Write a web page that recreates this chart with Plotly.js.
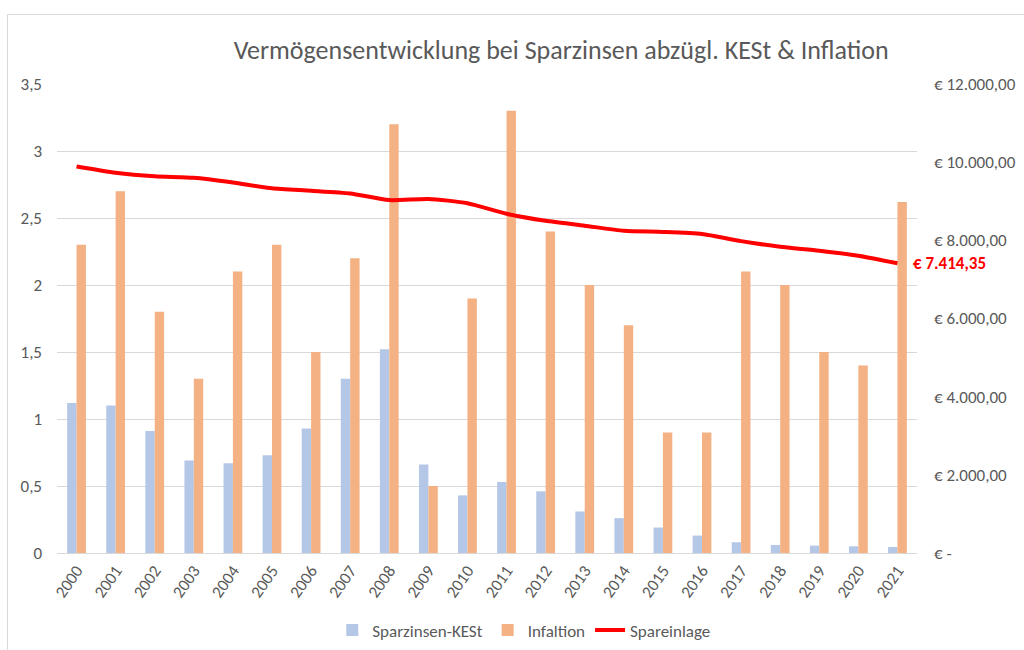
<!DOCTYPE html>
<html>
<head>
<meta charset="utf-8">
<script src="https://cdn.plot.ly/plotly-3.0.1.min.js"></script>
<style>
html,body{margin:0;padding:0;background:#fff;}
#wrap{position:relative;width:1024px;height:650px;overflow:hidden;}
#frame{position:absolute;left:7px;top:14px;width:1030px;height:660px;border:1px solid #d9d9d9;box-sizing:border-box;}
#chart{position:absolute;left:0;top:0;width:1024px;height:650px;}
</style>
</head>
<body>
<div id="wrap"><div id="frame"></div><div id="chart"></div></div>
<script>
const years = ["2000","2001","2002","2003","2004","2005","2006","2007","2008","2009","2010","2011","2012","2013","2014","2015","2016","2017","2018","2019","2020","2021"];
const sparzinsenKESt = [1.12,1.10,0.91,0.69,0.67,0.73,0.93,1.30,1.52,0.66,0.43,0.53,0.46,0.31,0.26,0.19,0.13,0.08,0.06,0.055,0.05,0.045];
const inflation = [2.3,2.7,1.8,1.3,2.1,2.3,1.5,2.2,3.2,0.5,1.9,3.3,2.4,2.0,1.7,0.9,0.9,2.1,2.0,1.5,1.4,2.62];
const spareinlage = [9890,9730,9640,9600,9480,9330,9270,9200,9030,9060,8950,8680,8500,8375,8245,8215,8160,7980,7835,7735,7605,7414.35];
const leftTickVals = [0,0.5,1,1.5,2,2.5,3,3.5];
const leftTickText = ["0","0,5","1","1,5","2","2,5","3","3,5"];
const rightTickVals = [0,2000,4000,6000,8000,10000,12000];
const rightTickText = ["€ -","€ 2.000,00","€ 4.000,00","€ 6.000,00","€ 8.000,00","€ 10.000,00","€ 12.000,00"];
const lastLabel = "€ 7.414,35";

const FONT = "Calibri, Carlito, Lato, 'Open Sans', sans-serif";
const GREY = "#595959";

const traces = [
  {type:"bar", name:"Sparzinsen-KESt", x:years, y:sparzinsenKESt, marker:{color:"#B4C7E7"}},
  {type:"bar", name:"Infaltion", x:years, y:inflation, marker:{color:"#F4B183"}},
  {type:"scatter", mode:"lines", name:"Spareinlage", x:years, y:spareinlage, yaxis:"y2",
   line:{color:"#FF0000", width:4, shape:"spline", smoothing:0.6}}
];

const layout = {
  width:1024, height:650,
  margin:{l:57, r:107, t:84, b:97},
  paper_bgcolor:"rgba(0,0,0,0)", plot_bgcolor:"rgba(0,0,0,0)",
  font:{family:FONT, color:GREY, size:17},
  title:{text:"Vermögensentwicklung bei Sparzinsen abzügl. KESt &amp; Inflation",
    font:{family:FONT, size:26, color:GREY}, xref:"container", x:0.548, xanchor:"center",
    yref:"container", y:0.923, yanchor:"middle"},
  barmode:"group", bargap:0.52, bargroupgap:0,
  showlegend:true,
  legend:{orientation:"h", xref:"container", x:0.512, xanchor:"center", yref:"container", y:0.03, yanchor:"middle",
    font:{family:FONT, size:17, color:GREY}, traceorder:"normal"},
  xaxis:{type:"category", range:[-0.5, years.length-0.5], autorange:false, tickangle:-55, showgrid:false, showline:true, linecolor:"#d9d9d9", linewidth:1,
    ticks:"", tickfont:{family:FONT, size:17, color:GREY}, fixedrange:true},
  yaxis:{range:[0,3.5], tickvals:leftTickVals, ticktext:leftTickText, showgrid:true, gridcolor:"#d9d9d9", gridwidth:1,
    zeroline:false, showline:false, ticks:"", ticklabelstandoff:14, tickfont:{family:FONT, size:17, color:GREY}},
  yaxis2:{range:[0,12000], overlaying:"y", side:"right", tickvals:rightTickVals, ticktext:rightTickText,
    showgrid:false, zeroline:false, showline:false, ticks:"", ticklabelstandoff:16, tickfont:{family:FONT, size:17, color:GREY}},
  annotations:[{x:years.length-1, y:spareinlage[spareinlage.length-1], xref:"x", yref:"y2",
    text:"<b>"+lastLabel+"</b>", showarrow:false, xanchor:"left", yanchor:"middle", xshift:14,
    font:{family:FONT, size:17, color:"#FF0000"}}]
};

Plotly.newPlot("chart", traces, layout, {staticPlot:true, displayModeBar:false});
</script>
</body>
</html>
